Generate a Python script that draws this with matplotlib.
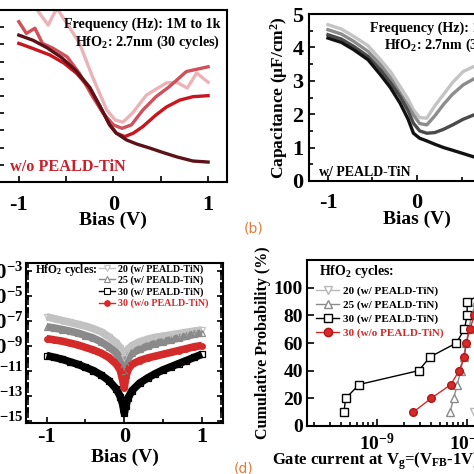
import numpy as np
import matplotlib
matplotlib.use('Agg')
import matplotlib.pyplot as plt
from matplotlib.lines import Line2D
from matplotlib.ticker import MultipleLocator, LogLocator, FixedLocator, NullFormatter, FixedFormatter

plt.rcParams['font.family'] = ['Liberation Serif', 'DejaVu Serif']
plt.rcParams['font.weight'] = 'bold'
plt.rcParams['axes.labelweight'] = 'bold'
plt.rcParams['mathtext.fontset'] = 'custom'
plt.rcParams['mathtext.rm'] = 'Liberation Serif:bold'
plt.rcParams['mathtext.it'] = 'Liberation Serif:bold:italic'
plt.rcParams['mathtext.bf'] = 'Liberation Serif:bold'
plt.rcParams['mathtext.default'] = 'rm'
plt.rcParams['axes.linewidth'] = 1.5
plt.rcParams['axes.unicode_minus'] = False

# ---- (a) C-V, w/o PEALD-TiN (1M -> 1k) ----
a_v_1 = [-1.0, -0.9, -0.79, -0.69, -0.62, -0.59, -0.49, -0.36, -0.22, -0.07, 0.02, 0.1, 0.2, 0.35, 0.56, 0.67, 0.78, 0.88, 1.0]
a_c_1 = [5.6, 5.4, 4.94, 4.56, 4.94, 5.02, 4.6, 4.04, 3.05, 2.09, 1.8, 1.74, 2.0, 2.53, 2.88, 2.9, 2.73, 3.17, 2.9]
a_v_2 = [-1.0, -0.92, -0.83, -0.75, -0.64, -0.49, -0.36, -0.22, -0.11, 0.0, 0.09, 0.19, 0.31, 0.45, 0.59, 0.77, 1.0]
a_c_2 = [4.66, 4.32, 4.47, 4.03, 3.89, 3.64, 3.16, 2.48, 2.0, 1.66, 1.56, 1.66, 2.09, 2.48, 2.77, 3.21, 3.35]
a_v_3 = [-1.0, -0.85, -0.67, -0.52, -0.39, -0.25, -0.14, -0.04, 0.03, 0.12, 0.21, 0.31, 0.45, 0.56, 0.7, 0.84, 1.0]
a_c_3 = [4.03, 3.88, 3.69, 3.45, 3.16, 2.72, 2.19, 1.66, 1.42, 1.32, 1.42, 1.61, 1.95, 2.18, 2.38, 2.48, 2.51]
a_v_4 = [-1.0, -0.85, -0.7, -0.55, -0.4, -0.25, -0.14, -0.04, 0.03, 0.14, 0.25, 0.38, 0.52, 0.67, 0.84, 1.0]
a_c_4 = [4.27, 4.12, 3.9, 3.62, 3.25, 2.75, 2.19, 1.66, 1.42, 1.22, 1.1, 0.99, 0.86, 0.73, 0.61, 0.58]

# ---- (b) C-V, w/ PEALD-TiN ----
b_v = [-1.0, -0.85, -0.71, -0.55, -0.41, -0.3, -0.19, -0.1, -0.04, 0.03, 0.11, 0.2, 0.3, 0.4, 0.52, 0.64, 0.8, 1.0]
b_c_1 = [4.68, 4.55, 4.33, 4.05, 3.63, 3.28, 2.83, 2.45, 2.13, 1.9, 1.88, 2.25, 2.6, 2.95, 3.28, 3.43, 3.6, 3.7]
b_c_2 = [4.53, 4.4, 4.18, 3.88, 3.48, 3.1, 2.63, 2.25, 1.98, 1.72, 1.68, 1.95, 2.3, 2.6, 2.88, 3.06, 3.2, 3.3]
b_c_3 = [4.38, 4.25, 4.03, 3.73, 3.33, 2.95, 2.53, 2.1, 1.73, 1.5, 1.43, 1.45, 1.55, 1.68, 1.85, 1.98, 2.05, 2.1]
b_c_4 = [4.28, 4.15, 3.93, 3.63, 3.18, 2.8, 2.33, 1.85, 1.43, 1.28, 1.2, 1.1, 1.0, 0.92, 0.82, 0.72, 0.62, 0.55]

# ---- (c) J-V, log10 |J| ----
c_v = [-1.0, -0.9, -0.8, -0.7, -0.6, -0.5, -0.4, -0.3, -0.2, -0.1, -0.05, -0.02, 0.0,
       0.02, 0.05, 0.1, 0.2, 0.3, 0.4, 0.5, 0.6, 0.7, 0.8, 0.9, 1.0]
c_log_20 = [-6.7, -6.85, -7.0, -7.15, -7.3, -7.45, -7.65, -7.9, -8.3, -8.8, -9.2, -9.6, -10.0,
            -9.6, -9.3, -9.0, -8.7, -8.5, -8.35, -8.25, -8.15, -8.05, -7.95, -7.85, -7.75]
c_log_25 = [-7.5, -7.6, -7.72, -7.85, -8.0, -8.2, -8.4, -8.7, -9.1, -9.6, -10.1, -10.6, -11.0,
            -10.5, -10.0, -9.6, -9.3, -9.05, -8.85, -8.7, -8.55, -8.4, -8.25, -8.1, -8.0]
c_log_30 = [-9.8, -9.95, -10.1, -10.3, -10.5, -10.75, -11.0, -11.35, -11.8, -12.5, -13.1, -13.7, -14.4,
            -13.8, -13.2, -12.6, -12.0, -11.6, -11.25, -10.95, -10.7, -10.45, -10.2, -9.95, -9.7]
c_log_30wo = [-8.45, -8.55, -8.65, -8.8, -8.95, -9.15, -9.35, -9.6, -9.95, -10.5, -11.0, -11.8, -12.4,
              -11.5, -10.9, -10.5, -10.2, -10.0, -9.85, -9.7, -9.55, -9.4, -9.25, -9.1, -9.0]
c_labels = ['20 (w/ PEALD-TiN)', '25 (w/ PEALD-TiN)', '30 (w/ PEALD-TiN)', '30 (w/o PEALD-TiN)']

# ---- (d) cumulative probability vs gate current (log10 A) ----
d_prob = [10, 20, 30, 40, 50, 60, 70, 80, 90, 100]
d_log_20 = [-7.92, -7.88, -7.85, -7.82, -7.79, -7.76, -7.72, -7.68, -7.64, -7.6]
d_log_25 = [-8.19, -8.15, -8.11, -8.07, -8.04, -8.01, -7.98, -7.95, -7.9, -7.85]
d_log_30 = [-9.37, -9.35, -9.2, -8.54, -8.41, -8.12, -8.03, -8.0, -8.0, -7.7]
d_log_30wo = [-8.6, -8.4, -8.18, -8.09, -8.03, -8.01, -7.97, -7.92, -7.85, -7.8]

W = 474.0


def box(l, t, r, b):
    return [l / W, 1 - b / W, (r - l) / W, (b - t) / W]


def fx(x):
    return x / W


def fy(y):
    return 1 - y / W


fig = plt.figure(figsize=(4.74, 4.74), dpi=100)

tick_kw = dict(direction='in', width=1.2)

# ---------------- (a) ----------------
ax = fig.add_axes(box(-2, 10, 227, 182))
ax.plot(a_v_1, a_c_1, color='#ebb3b7', lw=2.4)
ax.plot(a_v_2, a_c_2, color='#cf4f5a', lw=2.4)
ax.plot(a_v_3, a_c_3, color='#c8161f', lw=2.4)
ax.plot(a_v_4, a_c_4, color='#5c1216', lw=2.4)
ax.set_xlim(-1.22, 1.2)
ax.set_ylim(0, 5)
ax.xaxis.set_major_locator(MultipleLocator(1))
ax.xaxis.set_minor_locator(MultipleLocator(0.5))
ax.yaxis.set_major_locator(MultipleLocator(1))
ax.yaxis.set_minor_locator(MultipleLocator(0.5))
ax.tick_params(which='major', length=4, labelsize=16, pad=9, **tick_kw)
ax.tick_params(which='minor', length=4, **tick_kw)
ax.set_yticklabels([])
ax.set_xlabel('Bias (V)', fontsize=14, labelpad=-2)
ax.text(fx(220), fy(24), 'Frequency (Hz): 1M to 1k', transform=fig.transFigure,
        ha='right', va='center', fontsize=10.2)
ax.text(fx(220), fy(42), 'HfO$_2$: 2.7nm (30 cycles)', transform=fig.transFigure,
        ha='right', va='center', fontsize=10.2)
ax.text(fx(10), fy(167), 'w/o PEALD-TiN', transform=fig.transFigure,
        ha='left', va='center', fontsize=11.7, color='#c8202c')

# ---------------- (b) ----------------
ax = fig.add_axes(box(309, 14, 525, 181))
ax.plot(b_v, b_c_1, color='#c4c4c4', lw=2.4)
ax.plot(b_v, b_c_2, color='#8c8c8c', lw=2.4)
ax.plot(b_v, b_c_3, color='#4a4a4a', lw=2.4)
ax.plot(b_v, b_c_4, color='#111111', lw=2.4)
ax.set_xlim(-1.213, 1.213)
ax.set_ylim(0, 5)
ax.xaxis.set_major_locator(MultipleLocator(1))
ax.xaxis.set_minor_locator(MultipleLocator(0.5))
ax.yaxis.set_major_locator(MultipleLocator(1))
ax.yaxis.set_minor_locator(MultipleLocator(0.5))
ax.tick_params(axis='x', which='major', length=4, labelsize=16, pad=9, **tick_kw)
ax.tick_params(axis='y', which='major', length=4, labelsize=16, pad=4, **tick_kw)
ax.tick_params(which='minor', length=3, **tick_kw)
ax.set_xlabel('Bias (V)', fontsize=14, labelpad=-2)
ax.set_ylabel('Capacitance (\u03bcF/cm$^2$)', fontsize=12.5, labelpad=2)
ax.text(fx(370), fy(28), 'Frequency (Hz): 1M to 1k', transform=fig.transFigure,
        ha='left', va='center', fontsize=10.2)
ax.text(fx(384), fy(45), 'HfO$_2$: 2.7nm (30 cycles)', transform=fig.transFigure,
        ha='left', va='center', fontsize=10.2)
ax.text(fx(319), fy(172), 'w/ PEALD-TiN', transform=fig.transFigure,
        ha='left', va='center', fontsize=10)
fig.text(fx(254), fy(228), '(b)', color='#e07b39', fontsize=10,
         family='DejaVu Sans', weight='normal', ha='center', va='center')

# ---------------- (c) ----------------
ax = fig.add_axes(box(26, 263, 223, 423))
c_style = [('#c2c2c2', 'v', 'white'), ('#8a8a8a', '^', 'white'),
           ('#000000', 's', 'white'), ('#d42a2a', 'o', '#d42a2a')]
c_series = [c_log_20, c_log_25, c_log_30, c_log_30wo]
handles = []
for (col, mk, mfc), ser in zip(c_style, c_series):
    j = 10.0 ** np.array(ser)
    ax.plot(c_v, j, color=col, lw=5.5, solid_capstyle='butt', zorder=2)
    ax.plot(c_v, j, ls='none', marker=mk, ms=4, mfc='none' if mfc == 'white' else mfc,
            mec=col, mew=0.9, zorder=3)
    handles.append(Line2D([], [], color=col, lw=1, marker=mk, ms=4, mfc=mfc, mec=col, mew=0.8))
ax.set_yscale('log')
ax.set_xlim(-1.264, 1.27)
ax.set_ylim(10 ** -15.2, 10 ** -2.4)
ax.xaxis.set_major_locator(MultipleLocator(1))
ax.xaxis.set_minor_locator(MultipleLocator(0.5))
ax.yaxis.set_major_locator(FixedLocator([10.0 ** k for k in range(-15, -2, 2)]))
ax.yaxis.set_major_formatter(FixedFormatter(['10$^{%d}$' % k for k in range(-15, -2, 2)]))
ax.yaxis.set_minor_locator(LogLocator(base=10, subs=np.arange(1, 10), numticks=100))
ax.yaxis.set_minor_formatter(NullFormatter())
ax.tick_params(axis='x', which='major', length=4, labelsize=16, pad=3, **tick_kw)
ax.tick_params(axis='x', which='minor', length=3, **tick_kw)
ax.tick_params(axis='y', which='major', length=4, labelsize=15, pad=2, right=True, **tick_kw)
ax.tick_params(axis='y', which='minor', length=2, right=True, **tick_kw)
ax.set_xlabel('Bias (V)', fontsize=14, labelpad=1)
leg = ax.legend(handles, c_labels, loc='upper left', bbox_to_anchor=(fx(99), fy(264)),
                bbox_transform=fig.transFigure, frameon=False, fontsize=7.2,
                handlelength=1.6, handletextpad=0.3, labelspacing=0.2, borderpad=0,
                borderaxespad=0)
leg.get_texts()[3].set_color('#d42a2a')
ax.text(fx(35), fy(270), 'HfO$_2$ cycles:', transform=fig.transFigure,
        ha='left', va='center', fontsize=8.3)

# ---------------- (d) ----------------
ax = fig.add_axes(box(307, 260, 540, 426))
d_style = [('#b8b8b8', 'v', 'white'), ('#8a8a8a', '^', 'white'),
           ('#000000', 's', 'white'), ('#d42a2a', 'o', '#d42a2a')]
d_series = [d_log_20, d_log_25, d_log_30, d_log_30wo]
handles = []
for (col, mk, mfc), ser in zip(d_style, d_series):
    ax.plot(10.0 ** np.array(ser), d_prob, color=col, lw=1, marker=mk, ms=5.5,
            mfc=mfc, mec=col if mk != 'o' else '#b01818', mew=1)
    handles.append(Line2D([], [], color=col, lw=1, marker=mk, ms=6, mfc=mfc,
                          mec=col if mk != 'o' else '#b01818', mew=1))
ax.set_xscale('log')
ax.set_xlim(10 ** -9.78, 10 ** -7.19)
ax.set_ylim(0, 120)
ax.yaxis.set_major_locator(FixedLocator([0, 20, 40, 60, 80, 100]))
ax.xaxis.set_major_locator(LogLocator(base=10, numticks=10))
ax.xaxis.set_minor_locator(LogLocator(base=10, subs=np.arange(2, 10), numticks=100))
ax.xaxis.set_minor_formatter(NullFormatter())
ax.tick_params(axis='x', which='major', length=5, labelsize=14, pad=5, **tick_kw)
ax.tick_params(axis='y', which='major', length=5, labelsize=14, pad=3, **tick_kw)
ax.tick_params(which='minor', length=3, **tick_kw)
ax.set_ylabel('Cumulative Probability (%)', fontsize=11.5, labelpad=2)
leg = ax.legend(handles, c_labels, loc='upper left', bbox_to_anchor=(fx(316), fy(286)),
                bbox_transform=fig.transFigure, frameon=False, fontsize=8,
                handlelength=2.1, handletextpad=0.3, labelspacing=0.35, borderpad=0,
                borderaxespad=0)
leg.get_texts()[3].set_color('#d42a2a')
ax.text(fx(319), fy(272), 'HfO$_2$ cycles:', transform=fig.transFigure,
        ha='left', va='center', fontsize=10)
fig.text(fx(272), fy(461), 'Gate current at V$_\\mathrm{g}$=(V$_\\mathrm{FB}$-1V) (A)',
         ha='left', va='center', fontsize=12)
fig.text(fx(244), fy(468), '(d)', color='#e07b39', fontsize=10,
         family='DejaVu Sans', weight='normal', ha='center', va='center')

fig.savefig('out.png', dpi=100)
